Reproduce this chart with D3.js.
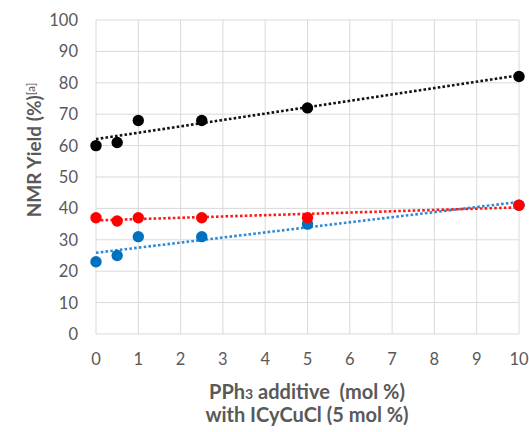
<!DOCTYPE html>
<meta charset="utf-8">
<script src="https://d3js.org/d3.v7.min.js"></script>
<style>
  body { margin: 0; background: #fff; }
  text { font-family: Lato, "Open Sans", sans-serif; fill: #595959; }
</style>
<div id="chart"></div>
<script>

// data
var additive = [0, 0.5, 1, 2.5, 5, 10];
var yieldBlack = [60, 61, 68, 68, 72, 82];
var yieldRed = [37, 36, 37, 37, 37, 41];
var yieldBlue = [23, 25, 31, 31, 35, 41];
var xTicks = [0, 1, 2, 3, 4, 5, 6, 7, 8, 9, 10];
var yTicks = [0, 10, 20, 30, 40, 50, 60, 70, 80, 90, 100];

// drawn in this order: red sits above blue where they meet
var series = [
  {name: "blue", values: yieldBlue, dot: "#0070c0", line: "#2e8ad6"},
  {name: "red", values: yieldRed, dot: "#ff0000", line: "#ff1a1a"},
  {name: "black", values: yieldBlack, dot: "#000000", line: "#111111"}
];

var W = 529, H = 432;
var margin = {top: 20, right: 10, bottom: 98, left: 96};

var svg = d3.select("#chart")
  .append("svg")
    .attr("width", W)
    .attr("height", H);

var x = d3.scaleLinear().domain([0, 10]).range([margin.left, W - margin.right]);
var y = d3.scaleLinear().domain([0, 100]).range([H - margin.bottom, margin.top]);

// gridlines
svg.append("g")
  .selectAll("line")
  .data(yTicks)
  .enter().append("line")
    .attr("x1", x(0)).attr("x2", x(10))
    .attr("y1", function(d){ return y(d) }).attr("y2", function(d){ return y(d) })
    .attr("stroke", "#d9d9d9").attr("stroke-width", 1);
svg.append("g")
  .selectAll("line")
  .data(xTicks)
  .enter().append("line")
    .attr("y1", y(0)).attr("y2", y(100))
    .attr("x1", function(d){ return x(d) }).attr("x2", function(d){ return x(d) })
    .attr("stroke", "#d9d9d9").attr("stroke-width", 1);

// tick labels
svg.append("g")
  .selectAll("text")
  .data(yTicks)
  .enter().append("text")
    .attr("x", x(0) - 18)
    .attr("y", function(d){ return y(d) })
    .attr("dy", "0.36em")
    .attr("text-anchor", "end")
    .style("font-size", "16.5px")
    .text(function(d){ return d });
svg.append("g")
  .selectAll("text")
  .data(xTicks)
  .enter().append("text")
    .attr("x", function(d){ return x(d) })
    .attr("y", y(0) + 31)
    .attr("text-anchor", "middle")
    .style("font-size", "16.5px")
    .text(function(d){ return d });

// least squares trend line, like the spreadsheet's linear trendline
function fit(xs, ys) {
  var mx = d3.mean(xs), my = d3.mean(ys);
  var sxy = d3.sum(xs, function(v, i){ return (v - mx) * (ys[i] - my) });
  var sxx = d3.sum(xs, function(v){ return (v - mx) * (v - mx) });
  var b = sxy / sxx;
  return {a: my - b * mx, b: b};
}

series.forEach(function(s) {
  var f = fit(additive, s.values);
  var ends = d3.extent(additive);
  svg.append("path")
    .datum(ends)
    .attr("d", d3.line()
      .x(function(d){ return x(d) })
      .y(function(d){ return y(f.a + f.b * d) }))
    .attr("stroke", s.line)
    .attr("stroke-width", 2.6)
    .attr("stroke-dasharray", "2.6,2.2")
    .attr("fill", "none");
});

series.forEach(function(s) {
  svg.append("g")
    .selectAll("circle")
    .data(additive)
    .enter().append("circle")
      .attr("cx", function(d){ return x(d) })
      .attr("cy", function(d, i){ return y(s.values[i]) })
      .attr("r", 5.7)
      .attr("fill", s.dot);
});

// axis titles
var yt = svg.append("text")
  .attr("transform", "translate(41," + 150 + ") rotate(-90)")
  .attr("text-anchor", "middle")
  .style("font-size", "19px")
  .style("font-weight", "bold");
yt.append("tspan").text("NMR Yield (%)");
yt.append("tspan").attr("dy", "-0.5em").style("font-size", "12px").style("font-weight", "normal").text("[a]");

var xt = svg.append("text")
  .attr("x", 307)
  .attr("y", 399)
  .attr("text-anchor", "middle")
  .style("font-size", "20px")
  .style("font-weight", "bold");
xt.append("tspan").text("PPh");
xt.append("tspan").style("font-size", "14px").text("3");
xt.append("tspan").text(" additive\u00a0 (mol %)");

svg.append("text")
  .attr("x", 307)
  .attr("y", 422)
  .attr("text-anchor", "middle")
  .style("font-size", "20px")
  .style("font-weight", "bold")
  .text("with ICyCuCl (5 mol %)");

</script>
